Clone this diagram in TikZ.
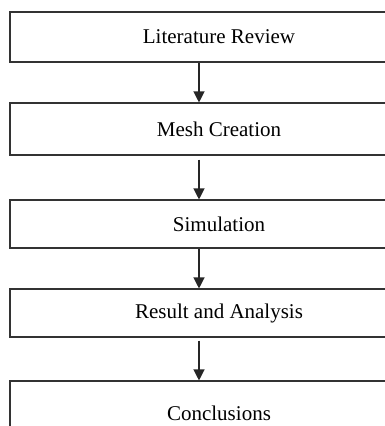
\documentclass[tikz,border=0pt]{standalone}
\usepackage{fontspec}
\setmainfont{Liberation Serif}
\usetikzlibrary{arrows.meta, positioning}
\tikzset{
  stagebox/.style={rectangle, draw=black!80, line width=1.1pt,
    minimum width=418pt, inner sep=0pt, font=\fontsize{21}{25}\selectfont},
  flowarrow/.style={-{Triangle[width=11pt,length=11pt]}, line width=1.2pt, color=black!85}
}
\begin{document}
\begin{tikzpicture}[x=1pt,y=-1pt]
  \useasboundingbox (0,0) rectangle (385,426);
  \clip (0,0) rectangle (385,426);
  % stages
  \node[stagebox, minimum height=50pt] (lit) at (219,37) {Literature Review};
  \node[stagebox, minimum height=52pt] (mesh) at (219,129) {Mesh Creation};
  \node[stagebox, minimum height=48pt] (sim) at (219,224) {Simulation};
  \node[stagebox, minimum height=48pt] (res) at (219,313) {Result and Analysis};
  \node[stagebox, minimum height=64pt] (conc) at (219,413) {Conclusions};
  % arrows
  \coordinate (ax) at (199,0);
  \draw[flowarrow] (lit.south -| ax) -- (mesh.north -| ax);
  \draw[flowarrow, shorten <=4pt] (mesh.south -| ax) -- (sim.north -| ax);
  \draw[flowarrow] (sim.south -| ax) -- (res.north -| ax);
  \draw[flowarrow, shorten <=3pt] (res.south -| ax) -- (conc.north -| ax);
\end{tikzpicture}
\end{document}
